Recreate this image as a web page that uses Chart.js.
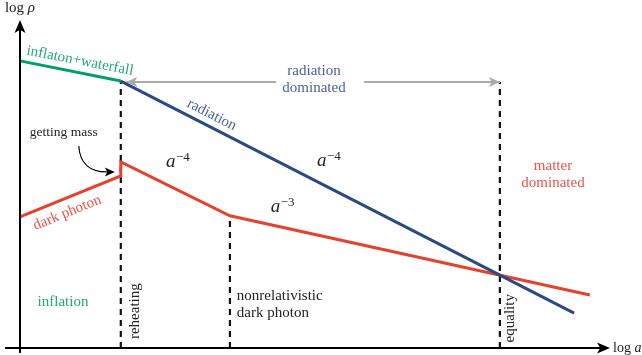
<!DOCTYPE html>
<html>
<head>
<meta charset="utf-8">
<script src="https://cdn.jsdelivr.net/npm/chart.js@4"></script>
<style>
  html, body { margin: 0; padding: 0; background: #fff; }
  #wrap { width: 642px; height: 355px; }
</style>
</head>
<body>
<div id="wrap"><canvas id="my-chart" width="642" height="355"></canvas></div>
<script>
// schematic energy densities, log rho vs log a (arbitrary units)
const inflatonX = [0, 2.05];
const inflatonY = [5.69, 5.29];

const radiationX = [2.05, 11.27];
const radiationY = [5.29, 0.69];

const darkX = [0, 2.05, 2.05, 4.27, 11.59];
const darkY = [2.60, 3.41, 3.69, 2.62, 1.05];

// vertical markers: reheating, nonrelativistic, equality
const markerX = [2.05, 4.27, 9.76];
const markerTop = [5.29, 2.62, 5.27];

// "radiation dominated" span arrow (gap for the label)
const spanX = [2.16, 5.21, 6.0, 7.0, 9.76];
const spanY = [5.27, 5.27, null, 5.27, 5.27];

const axisTitles = ["log a", "log \u03c1"];

const SERIF = '"Liberation Serif", "DejaVu Serif", serif';
const GREEN = "#009e6b", BLUE = "#2a4a85", RED = "#e5412d";
const GREEN_T = "#22a67a", BLUE_T = "#46639a", RED_T = "#e8524a";

function pts(xs, ys) {
  return xs.map((x, i) => ({ x: x, y: ys[i] }));
}

const markerSets = markerX.map((x, i) => ({
  data: pts([x, x], [0, markerTop[i]]),
  borderColor: "#111",
  borderWidth: 2.2,
  borderDash: [6, 5],
}));

function arrowHead(ctx, x, y, angle, len, half, color) {
  ctx.save();
  ctx.translate(x, y);
  ctx.rotate(angle);
  ctx.fillStyle = color;
  ctx.beginPath();
  ctx.moveTo(0, 0);
  ctx.lineTo(-len, -half);
  ctx.lineTo(-len * 0.75, 0);
  ctx.lineTo(-len, half);
  ctx.closePath();
  ctx.fill();
  ctx.restore();
}

function label(ctx, text, x, y, color, size, angle, align) {
  ctx.save();
  ctx.translate(x, y);
  ctx.rotate(angle || 0);
  ctx.fillStyle = color;
  ctx.font = size + "px " + SERIF;
  ctx.textAlign = align || "center";
  ctx.textBaseline = "middle";
  ctx.fillText(text, 0, 0);
  ctx.restore();
}

// "log" upright followed by an italic symbol
function logLabel(ctx, sym, x, y, size, centered) {
  ctx.save();
  ctx.fillStyle = "#222";
  ctx.textBaseline = "alphabetic";
  ctx.textAlign = "left";
  ctx.font = size + "px " + SERIF;
  const w = ctx.measureText("log ").width;
  ctx.font = "italic " + size + "px " + SERIF;
  const w2 = ctx.measureText(sym).width;
  const x0 = centered ? x - (w + w2) / 2 : x;
  ctx.font = size + "px " + SERIF;
  ctx.fillText("log ", x0, y);
  ctx.font = "italic " + size + "px " + SERIF;
  ctx.fillText(sym, x0 + w, y);
  ctx.restore();
}

function power(ctx, x, y, exp) {
  ctx.save();
  ctx.fillStyle = "#222";
  ctx.textBaseline = "alphabetic";
  ctx.textAlign = "left";
  ctx.font = "italic 19px " + SERIF;
  ctx.fillText("a", x, y);
  ctx.font = "13px " + SERIF;
  ctx.fillText("\u2212" + exp, x + 10, y - 6);
  ctx.restore();
}

const sketchPlugin = {
  id: "sketch",
  afterDatasetsDraw(chart) {
    const ctx = chart.ctx;
    const sx = chart.scales.x, sy = chart.scales.y;
    const px = (v) => sx.getPixelForValue(v);
    const py = (v) => sy.getPixelForValue(v);
    const a = chart.chartArea;

    // axes
    ctx.save();
    ctx.strokeStyle = "#000";
    ctx.lineWidth = 2;
    ctx.beginPath();
    ctx.moveTo(a.left - 15, a.bottom);
    ctx.lineTo(a.right - 8, a.bottom);
    ctx.moveTo(a.left, a.bottom + 5);
    ctx.lineTo(a.left, a.top + 8);
    ctx.stroke();
    ctx.restore();
    arrowHead(ctx, a.right, a.bottom, 0, 13, 5.5, "#000");
    arrowHead(ctx, a.left, a.top, -Math.PI / 2, 13, 5.5, "#000");

    logLabel(ctx, "a", a.right + 3, a.bottom + 4, 14, false);
    logLabel(ctx, "\u03c1", a.left, 12, 15, true);

    // span arrowheads
    arrowHead(ctx, px(spanX[0]), py(spanY[0]), Math.PI, 11, 5, "#aaa");
    arrowHead(ctx, px(spanX[4]), py(spanY[4]), 0, 11, 5, "#aaa");

    // "getting mass" curved arrow
    const tx = px(markerX[0]) - 6, ty = py(darkY[1]) - 4;
    ctx.save();
    ctx.strokeStyle = "#000";
    ctx.lineWidth = 1.2;
    ctx.beginPath();
    ctx.moveTo(tx - 36, ty - 26);
    ctx.bezierCurveTo(tx - 35, ty - 8, tx - 24, ty, tx - 8, ty);
    ctx.stroke();
    ctx.restore();
    arrowHead(ctx, tx, ty, 0, 10, 4.5, "#000");

    // labels
    label(ctx, "inflaton+waterfall", px(1.22), py(5.69), GREEN_T, 15, 0.19);
    label(ctx, "radiation", px(3.90), py(4.62), BLUE_T, 15, 0.47);
    label(ctx, "dark photon", px(0.96), py(2.68), RED_T, 15, -0.385);
    label(ctx, "getting mass", px(0.89), py(4.28), "#222", 13.5);
    label(ctx, "inflation", px(0.875), py(0.91), GREEN_T, 15);
    label(ctx, "reheating", px(2.34), py(0.73), "#222", 15, -Math.PI / 2);
    label(ctx, "nonrelativistic", px(4.41), py(1.03), "#222", 15, 0, "left");
    label(ctx, "dark photon", px(4.41), py(0.69), "#222", 15, 0, "left");
    label(ctx, "equality", px(9.97), py(0.59), "#222", 15, -Math.PI / 2);
    label(ctx, "matter", px(10.84), py(3.61), RED_T, 15);
    label(ctx, "dominated", px(10.84), py(3.27), RED_T, 15);
    label(ctx, "radiation", px(5.98), py(5.49), BLUE_T, 15);
    label(ctx, "dominated", px(5.98), py(5.15), BLUE_T, 15);

    power(ctx, px(2.97), py(3.59), "4");
    power(ctx, px(6.04), py(3.61), "4");
    power(ctx, px(5.10), py(2.70), "3");
  },
};

const ctx = document.getElementById("my-chart").getContext("2d");
const chart = new Chart(ctx, {
  type: "scatter",
  data: {
    datasets: [
      { label: "inflaton+waterfall", data: pts(inflatonX, inflatonY), borderColor: GREEN, borderWidth: 3 },
      { label: "radiation", data: pts(radiationX, radiationY), borderColor: BLUE, borderWidth: 3 },
      { label: "dark photon", data: pts(darkX, darkY), borderColor: RED, borderWidth: 3 },
      { label: "span", data: pts(spanX, spanY), borderColor: "#aaa", borderWidth: 2 },
    ].concat(markerSets).map((d) => Object.assign({
      showLine: true,
      pointRadius: 0,
      fill: false,
      tension: 0,
      spanGaps: false,
      clip: false,
    }, d)),
  },
  options: {
    responsive: false,
    animation: false,
    devicePixelRatio: 1,
    layout: { padding: { left: 20, right: 32, top: 20, bottom: 7 } },
    scales: {
      x: { type: "linear", min: 0, max: 12, display: false },
      y: { type: "linear", min: 0, max: 6.5, display: false },
    },
    plugins: {
      legend: { display: false },
      tooltip: { enabled: false },
    },
  },
  plugins: [sketchPlugin],
});
</script>
</body>
</html>
